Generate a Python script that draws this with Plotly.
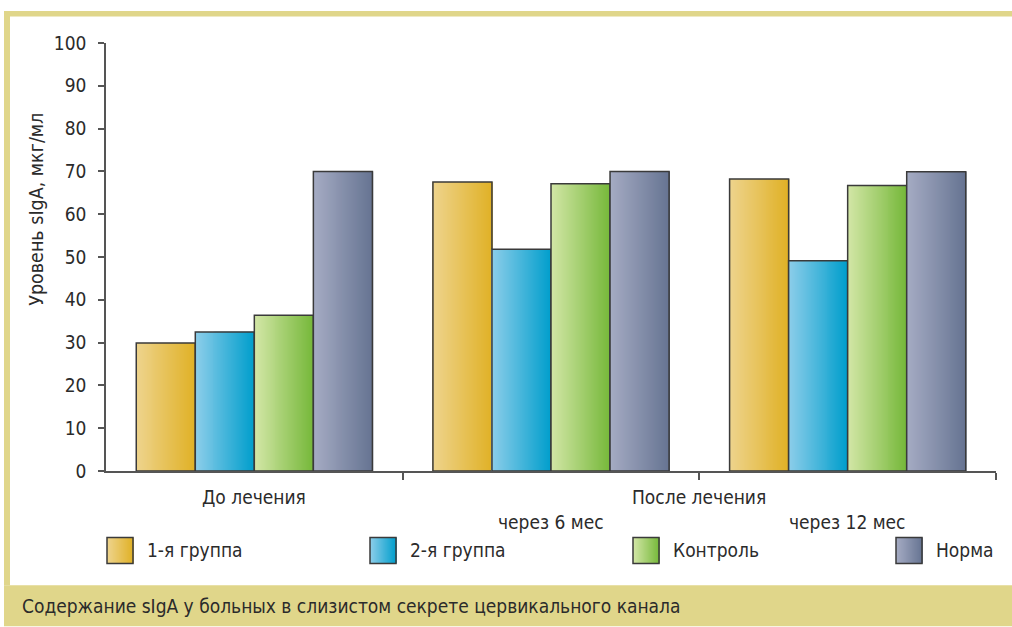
import plotly.graph_objects as go

# ---- data -------------------------------------------------------------
categories = ["До лечения", "через 6 мес", "через 12 мес"]
series_names = ["1-я группа", "2-я группа", "Контроль", "Норма"]
group1 = [29.9, 67.5, 68.2]
group2 = [32.5, 51.8, 49.1]
control = [36.4, 67.1, 66.7]
norm = [70.0, 70.0, 69.9]
y_ticks = list(range(0, 101, 10))

values = [group1, group2, control, norm]

# left / right colours of the horizontal gradient for each series
grad_left = [(238, 212, 142), (142, 206, 234), (212, 231, 168), (166, 172, 196)]
grad_right = [(224, 177, 38), (0, 158, 204), (118, 184, 58), (102, 116, 146)]

FONT = "Liberation Sans Narrow, Arial Narrow, DejaVu Sans Condensed, sans-serif"
TEXT = "#2b2b2b"
FRAME = "#e0d68a"

W, H = 1012, 627
ML, MR, MT, MB = 106, 16, 43, 155.5
PW, PH = W - ML - MR, H - MT - MB


def px(x):
    return (x - ML) / PW


def py(y):
    return (H - MB - y) / PH


def mix(a, b, t):
    return "rgb(%d,%d,%d)" % tuple(round(a[i] + (b[i] - a[i]) * t) for i in range(3))


centers = [i + 0.5 for i in range(len(categories))]
bar_w = 0.199
start = -2 * bar_w
N = 60

fig = go.Figure()

for k, vals in enumerate(values):
    xs, ys, offs, cols = [], [], [], []
    for j in range(N):
        t = (j + 0.5) / N
        c = mix(grad_left[k], grad_right[k], t)
        for ci, v in zip(centers, vals):
            xs.append(ci)
            ys.append(v)
            offs.append(start + k * bar_w + j * bar_w / N)
            cols.append(c)
    fig.add_trace(go.Bar(
        x=xs, y=ys, offset=offs, width=bar_w / N * 1.8,
        marker=dict(color=cols, line=dict(width=0)),
        showlegend=False, hoverinfo="skip",
    ))
    fig.add_trace(go.Bar(
        x=centers, y=vals, offset=start + k * bar_w, width=bar_w,
        marker=dict(color="rgba(0,0,0,0)", line=dict(color="#3a3a3a", width=1.5)),
        name=series_names[k], showlegend=False,
    ))

shapes = []
# frame: top rule, left rule, caption band
shapes.append(dict(type="rect", xref="paper", yref="paper", x0=px(4), x1=px(1012),
                   y0=py(16.5), y1=py(11), fillcolor=FRAME, line=dict(width=0), layer="below"))
shapes.append(dict(type="rect", xref="paper", yref="paper", x0=px(4), x1=px(10),
                   y0=py(586), y1=py(11), fillcolor=FRAME, line=dict(width=0), layer="below"))
shapes.append(dict(type="rect", xref="paper", yref="paper", x0=px(4), x1=px(1012),
                   y0=py(627), y1=py(586), fillcolor=FRAME, line=dict(width=0), layer="below"))

annotations = []


def label(text, x, y, xref="paper", xanchor="center", size=19, angle=0):
    annotations.append(dict(text=text, xref=xref, yref="paper", x=x, y=y,
                            xanchor=xanchor, yanchor="middle", textangle=angle,
                            showarrow=False,
                            font=dict(size=size, color=TEXT, family=FONT)))


# legend swatches and labels
leg_x = [107, 370, 633, 896]
sw = 26
for k, name in enumerate(series_names):
    x0 = leg_x[k]
    M = 26
    for j in range(M):
        t = (j + 0.5) / M
        shapes.append(dict(type="rect", xref="paper", yref="paper",
                           x0=px(x0 + j * sw / M), x1=px(x0 + (j + 1.8) * sw / M),
                           y0=py(564), y1=py(538),
                           fillcolor=mix(grad_left[k], grad_right[k], t), line=dict(width=0)))
    shapes.append(dict(type="rect", xref="paper", yref="paper",
                       x0=px(x0), x1=px(x0 + sw), y0=py(564), y1=py(538),
                       line=dict(color="#3a3a3a", width=1.5)))
    label(name, px(x0 + 38), py(551), xanchor="left")

# category labels
label(categories[0], centers[0], py(498), xref="x")
label("После лечения", 2, py(498), xref="x")
for ci, cat in zip(centers[1:], categories[1:]):
    label(cat, ci, py(523), xref="x")

# y axis title
label("Уровень sIgA, мкг/мл", px(37), py(210), size=19.5, angle=-90)
# caption
label("Содержание sIgA у больных в слизистом секрете цервикального канала",
      px(20), py(607), xanchor="left")

fig.update_layout(
    width=W, height=H,
    margin=dict(l=ML, r=MR, t=MT, b=MB, pad=0),
    paper_bgcolor="white", plot_bgcolor="white",
    barmode="overlay", showlegend=False,
    shapes=shapes, annotations=annotations,
    xaxis=dict(range=[0, 3], tickvals=[1, 2, 3], ticks="outside", ticklen=7,
               tickcolor="#555", tickwidth=1.5, showticklabels=False,
               showline=True, linecolor="#555", linewidth=1.5,
               showgrid=False, zeroline=False, fixedrange=True),
    yaxis=dict(range=[0, 100], tickvals=y_ticks, ticks="outside", ticklen=6,
               tickcolor="#555", tickwidth=1.5, showline=True, linecolor="#555",
               linewidth=1.5, showgrid=False, zeroline=False,
               tickfont=dict(size=19, color=TEXT, family=FONT),
               ticklabelstandoff=8, fixedrange=True),
)

fig.write_html("out.html")
